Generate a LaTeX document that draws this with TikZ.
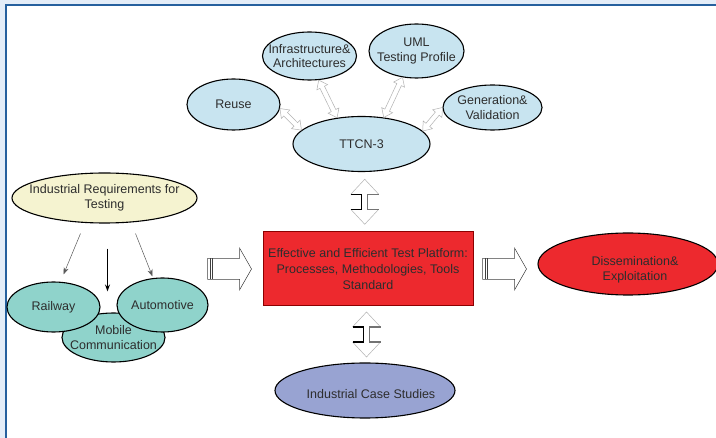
\documentclass[tikz,border=0pt]{standalone}
\usepackage{fontspec}
\setmainfont{Liberation Sans}
\usetikzlibrary{shapes.geometric,calc,arrows.meta}

\definecolor{frameblue}{RGB}{38,96,158}
\definecolor{framebg}{RGB}{228,237,248}
\definecolor{skyfill}{RGB}{200,228,240}
\definecolor{creamfill}{RGB}{245,243,208}
\definecolor{tealfill}{RGB}{143,211,203}
\definecolor{lilacfill}{RGB}{152,163,210}
\definecolor{platred}{RGB}{237,41,46}
\definecolor{inkgray}{RGB}{45,45,45}

\tikzset{
  bubble/.style={ellipse, draw=black, line width=1.1pt, inner sep=0pt},
  txt/.style={align=center, text=inkgray, font=\fontsize{12.5}{14.5}\selectfont},
  thinarrow/.style={-{Stealth[length=7pt,width=5pt]}, draw=black!65, line width=0.5pt},
  hollow/.style={draw=black!30, line width=0.5pt, line join=miter},
  fat/.style={draw=black!75, line width=0.5pt, fill=white},
}

% hollow double arrow between two points
\newcommand{\dblarrow}[2]{%
  \draw[hollow] (#1) -- ($(#1)!8pt!(#2)!6pt!90:(#2)$) -- ($(#1)!8pt!(#2)!2.5pt!90:(#2)$)
    -- ($(#2)!8pt!(#1)!2.5pt!-90:(#1)$) -- ($(#2)!8pt!(#1)!6pt!-90:(#1)$) -- (#2)
    -- ($(#2)!8pt!(#1)!6pt!90:(#1)$) -- ($(#2)!8pt!(#1)!2.5pt!90:(#1)$)
    -- ($(#1)!8pt!(#2)!2.5pt!-90:(#2)$) -- ($(#1)!8pt!(#2)!6pt!-90:(#2)$) -- cycle;}
% vertical double arrow with bracket shaft, centred at #1
\newcommand{\vdarrow}[1]{%
  \draw[hollow] (#1) ++(-14,-7.5) -- ++(14,-15) -- ++(14,15);
  \draw[hollow] (#1) ++(-14,7.5) -- ++(14,15) -- ++(14,-15);
  \draw[black, line width=1.1pt] (#1) ++(-14,-7.5) -- ++(11,0) -- ++(0,15) -- ++(-11,0);
  \draw[black!55, line width=1.1pt] (#1) ++(14,-7.5) -- ++(-11,0) -- ++(0,15) -- ++(11,0);}
% striped block arrow, tail at #1, pointing right
\newcommand{\fatarrow}[1]{%
  \draw[fat] (#1) ++(0,-10.5) -- ++(32,0) -- ++(0,-10.5) -- ++(12,21) -- ++(-12,21)
    -- ++(0,-10.5) -- ++(-32,0) -- cycle;
  \draw[black!75, line width=0.8pt] (#1) ++(2.5,-10.5) -- ++(0,21);
  \draw[black!75, line width=0.8pt] (#1) ++(5,-10.5) -- ++(0,21);}

\begin{document}
\begin{tikzpicture}[x=1pt,y=1pt,yscale=-1,xscale=1]
\useasboundingbox (0,0) rectangle (716,438);

%Frame
\fill[framebg] (0,0) rectangle (716,438);
\draw[frameblue, line width=1.5pt, fill=white] (6,4.8) rectangle (760,480);

%Shape: Ellipse
\node[bubble, fill=skyfill, minimum width=94, minimum height=48, label={[txt]center:Infrastructure\&\\Architectures}] (infra) at (309.5,56) {};
%Shape: Ellipse
\node[bubble, fill=skyfill, minimum width=95, minimum height=54, label={[txt]center:UML\\Testing Profile}] (uml) at (416.5,51) {};
%Shape: Ellipse
\node[bubble, fill=skyfill, minimum width=93, minimum height=51, label={[txt]center:Reuse}] (reuse) at (233.5,104.5) {};
%Shape: Ellipse
\node[bubble, fill=skyfill, minimum width=99, minimum height=45, label={[txt]center:Generation\&\\Validation}] (gen) at (492.5,107.5) {};
%Shape: Ellipse
\node[bubble, fill=skyfill, minimum width=137, minimum height=55, label={[txt]center:TTCN-3}] (ttcn) at (361.5,144) {};

%Shape: Ellipse
\node[bubble, fill=creamfill, minimum width=185, minimum height=50, label={[txt]center:Industrial Requirements for\\Testing}] (req) at (104.5,198) {};
%Shape: Ellipse
\node[bubble, fill=tealfill, minimum width=103, minimum height=49, label={[txt]center:Mobile\\Communication}] (mobile) at (113.5,337.5) {};
%Shape: Ellipse
\node[bubble, fill=tealfill, minimum width=93, minimum height=50, label={[txt]center:Railway}] (railway) at (53.5,307) {};
%Shape: Ellipse
\node[bubble, fill=tealfill, minimum width=91, minimum height=54, label={[txt]center:Automotive}] (automotive) at (162.5,305) {};

%Shape: Rectangle
\node[draw=red!55!black, line width=1pt, fill=platred, minimum width=210, minimum height=74, inner sep=0pt, txt, font=\fontsize{12.5}{16}\selectfont] (plat) at (368,269) {Effective and Efficient Test Platform:\\Processes, Methodologies, Tools\\Standard};
%Shape: Ellipse
\node[bubble, fill=platred, minimum width=180, minimum height=62, label={[txt,xshift=7pt,yshift=-6pt]center:Dissemination\&\\Exploitation}] (dissem) at (628,264) {};
%Shape: Ellipse
\node[bubble, fill=lilacfill, minimum width=180, minimum height=55, label={[txt,xshift=6pt,yshift=-4pt]center:Industrial Case Studies}] (cases) at (365,390.5) {};

%Straight Lines
\draw[thinarrow] ([shift={(-24,10)}]req.south) -- ([shift={(10,-7)}]railway.north);
\draw[thinarrow, draw=black, line width=0.9pt] ([shift={(3,25)}]req.south) -- ([shift={(-6,-21)}]mobile.north);
\draw[thinarrow] ([shift={(31,10)}]req.south) -- ([shift={(-10,-1)}]automotive.north);

%Double arrows round TTCN-3
\dblarrow{reuse.-5}{ttcn.167}
\dblarrow{infra.-69}{ttcn.133}
\dblarrow{uml.-118}{ttcn.50}
\dblarrow{gen.west}{ttcn.12}

%Double arrows to the platform
\coordinate (topgap) at ($(ttcn.south)!0.5!(plat.north)$);
\coordinate (lowgap) at ($(plat.south)!0.5!(cases.north)$);
\vdarrow{topgap}
\vdarrow{lowgap}

%Block arrows
\fatarrow{[xshift=-55pt]plat.west}
\fatarrow{[xshift=9pt]plat.east}
\end{tikzpicture}
\end{document}
